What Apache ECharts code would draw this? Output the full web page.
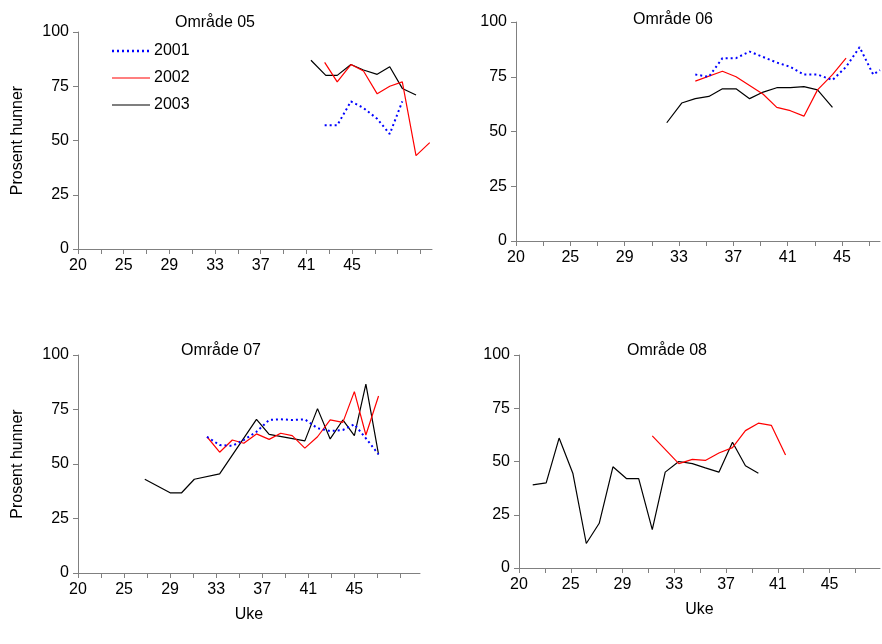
<!DOCTYPE html>
<html><head><meta charset="utf-8">
<script src="https://cdn.jsdelivr.net/npm/echarts@6/dist/echarts.min.js"></script>
<style>html,body{margin:0;background:#fff}#c{width:882px;height:644px}</style>
</head><body><div id="c"></div>
<script>
// x positions are in axis slots (slot 0 = "20", slot 4 = "25", ...)
var weekLabels = {0:'20', 4:'25', 8:'29', 12:'33', 16:'37', 20:'41', 24:'45'};
var yTicks = [0, 25, 50, 75, 100];

// Område 05
var a05x01 = [21.6, 22.7, 23.9, 25.0, 26.2, 27.3, 28.4];
var a05y01 = [57, 57, 68, 65, 60, 53, 68];
var a05x02 = [21.6, 22.7, 23.9, 25.0, 26.2, 27.3, 28.4, 29.6, 30.8];
var a05y02 = [86, 77, 85, 82, 71.5, 75, 77, 43, 49];
var a05x03 = [20.4, 21.7, 22.7, 23.9, 25.0, 26.2, 27.3, 28.4, 29.6];
var a05y03 = [87, 80, 80, 85, 82.5, 80.5, 84, 74, 71];
// Område 06
var a06x01 = [13.2, 14.2, 15.2, 16.2, 17.2, 18.2, 19.2, 20.2, 21.2, 22.2, 23.3, 24.3, 25.3, 26.3, 26.8];
var a06y01 = [76, 75, 83.5, 83.5, 86.5, 84, 81.5, 79.5, 76, 76, 73.5, 79.5, 88.5, 76, 78];
var a06x02 = [13.2, 15.2, 16.2, 17.2, 18.2, 19.2, 20.2, 21.2, 22.2, 23.3, 24.3];
var a06y02 = [73, 77.5, 75, 71, 67, 61, 59.5, 57, 69, 76, 83.5];
var a06x03 = [11.1, 12.2, 13.2, 14.2, 15.2, 16.2, 17.2, 18.2, 19.2, 20.2, 21.2, 22.2, 23.3];
var a06y03 = [54, 63, 65, 66, 69.5, 69.5, 65, 68, 70, 70, 70.5, 69, 61];
// Område 07
var a07x01 = [11.2, 12.3, 13.4, 14.4, 15.5, 16.6, 17.6, 18.6, 19.7, 20.8, 21.9, 23.0, 24.0, 25.0, 26.1];
var a07y01 = [62.5, 58.7, 58.3, 61, 64.8, 70.2, 70.5, 70.2, 70.5, 66.4, 65.1, 65.6, 68.2, 61.8, 54.4];
var a07x02 = [11.2, 12.3, 13.4, 14.4, 15.5, 16.6, 17.6, 18.6, 19.7, 20.8, 21.9, 23.0, 24.0, 25.0, 26.1];
var a07y02 = [62.5, 55.4, 61, 59.5, 63.8, 61.3, 64.1, 63, 57.3, 62.5, 70.2, 69.1, 83.2, 63.3, 81.2];
var a07x03 = [5.8, 8.0, 9.0, 10.1, 12.3, 15.5, 16.6, 19.7, 20.8, 21.9, 23.0, 24.0, 25.0, 26.1];
var a07y03 = [43, 36.8, 36.8, 43, 45.5, 70.5, 63.6, 60.6, 75.4, 61.5, 70.2, 63, 86.6, 54.4];
// Område 08
var a08x02 = [10.3, 12.35, 13.4, 14.4, 15.45, 16.5, 17.5, 18.5, 19.5, 20.6];
var a08y02 = [62, 49, 51, 50.5, 54, 56.5, 64.5, 68, 67, 53];
var a08x03 = [1.06, 2.1, 3.1, 4.16, 5.2, 6.2, 7.26, 8.3, 9.25, 10.3, 11.3, 12.35, 13.4, 14.4, 15.45, 16.5, 17.5, 18.5];
var a08y03 = [39, 40, 61, 44.5, 11.5, 21, 47.5, 42, 42, 18, 45, 50, 49, 47, 45, 59, 48, 44.5];

function pts(xs, ys) { return xs.map(function (x, i) { return [x, ys[i]]; }); }

var panels = [
  {title: 'Område 05', grid: {left: 78, top: 32, width: 354, height: 217}, max: 31, s: [[a05x01, a05y01], [a05x02, a05y02], [a05x03, a05y03]], tx: 210, ty: 10, uke: false},
  {title: 'Område 06', grid: {left: 516, top: 22, width: 364, height: 219}, max: 26.8, s: [[a06x01, a06y01], [a06x02, a06y02], [a06x03, a06y03]], tx: 668, ty: 7, uke: false},
  {title: 'Område 07', grid: {left: 78, top: 355, width: 342, height: 218}, max: 29.7, s: [[a07x01, a07y01], [a07x02, a07y02], [a07x03, a07y03]], tx: 216, ty: 338, uke: true},
  {title: 'Område 08', grid: {left: 519, top: 355, width: 361, height: 213}, max: 27.9, s: [null, [a08x02, a08y02], [a08x03, a08y03]], tx: 662, ty: 338, uke: true}
];
var names = ['2001', '2002', '2003'];
var styles = [
  {color: '#0000ff', type: [2, 3], width: 2},
  {color: '#ff0000', type: 'solid', width: 1.2},
  {color: '#000000', type: 'solid', width: 1.2}
];
var axisLine = {lineStyle: {color: '#808080'}};
var font = 'Arial, "Liberation Sans", sans-serif';

var option = {animation: false, textStyle: {fontFamily: font}, grid: [], xAxis: [], yAxis: [], series: [], title: [], graphic: []};
panels.forEach(function (p, k) {
  option.grid.push(p.grid);
  option.title.push({text: p.title, left: p.tx, top: p.ty, textAlign: 'center', textStyle: {fontSize: 16, fontWeight: 'normal', color: '#000', fontFamily: font}});
  option.xAxis.push({type: 'value', gridIndex: k, min: 0, max: p.max, interval: 2, splitLine: {show: false}, axisLine: axisLine,
    axisTick: {lineStyle: {color: '#808080'}, length: 5},
    axisLabel: {fontSize: 16, color: '#000', margin: 9, showMaxLabel: false, formatter: function (v) { return weekLabels[v] || ''; }},
    name: p.uke ? 'Uke' : '', nameLocation: 'middle', nameGap: 34, nameTextStyle: {fontSize: 16, color: '#000'}});
  option.yAxis.push({type: 'value', gridIndex: k, min: yTicks[0], max: yTicks[yTicks.length - 1], interval: 25, splitLine: {show: false},
    axisLine: {show: true, lineStyle: {color: '#808080'}}, axisTick: {show: true, lineStyle: {color: '#808080'}, length: 5},
    axisLabel: {fontSize: 16, color: '#000', margin: 9},
    name: k % 2 === 0 ? 'Prosent hunner' : '', nameLocation: 'middle', nameGap: 52, nameTextStyle: {fontSize: 16, color: '#000'}});
  p.s.forEach(function (d, j) {
    if (!d) return;
    option.series.push({name: names[j], type: 'line', xAxisIndex: k, yAxisIndex: k, data: pts(d[0], d[1]),
      showSymbol: false, symbol: 'none', lineStyle: styles[j], itemStyle: {color: styles[j].color}, z: 3 - j});
  });
});
// legend drawn as line samples + text inside the first panel
names.forEach(function (n, j) {
  var y = 51 + j * 27;
  option.graphic.push({type: 'line', shape: {x1: 112, y1: y, x2: 150, y2: y}, style: {stroke: styles[j].color, lineWidth: j === 0 ? 2.5 : 1.2, lineDash: j === 0 ? [2, 3] : null}});
  option.graphic.push({type: 'text', x: 154, y: y, style: {text: n, fontSize: 16, fill: '#000', font: '16px ' + font, verticalAlign: 'middle'}});
});
var chart = echarts.init(document.getElementById('c'));
chart.setOption(option);
</script></body></html>
